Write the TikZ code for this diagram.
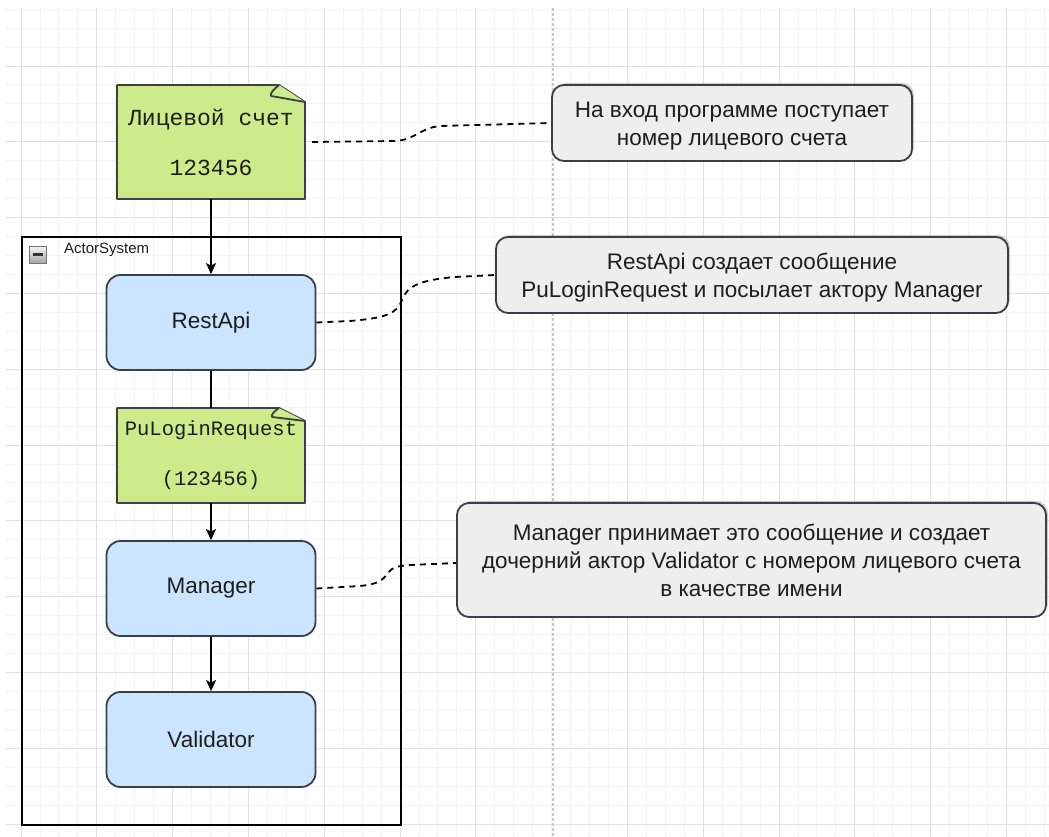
\documentclass[tikz,border=0pt]{standalone}
\usepackage{fontspec}
\setmainfont{Liberation Sans}
\newfontfamily\notefont{Liberation Mono}
\usetikzlibrary{arrows.meta,shadows}

\definecolor{gridminor}{HTML}{F2F2F2}
\definecolor{gridmajor}{HTML}{E0E0E0}
\definecolor{pagebreak}{HTML}{C8C8C8}
\definecolor{notefill}{HTML}{CDEB8B}
\definecolor{boxfill}{HTML}{CCE5FF}
\definecolor{calloutfill}{HTML}{EEEEEE}
\definecolor{edgegray}{HTML}{3C3F44}
\definecolor{inktext}{HTML}{1E1E1E}

\tikzset{
  sheet/.style={draw=edgegray, fill=notefill, line width=1.8pt, line join=round},
  notetext/.style={minimum width=188pt, minimum height=114pt, inner sep=0pt,
    align=center, text=inktext, font=\notefont\fontsize{23}{50}\selectfont},
  actor/.style={draw=edgegray, fill=boxfill, rounded corners=14pt, line width=1.8pt,
    minimum width=209pt, minimum height=95pt, inner sep=0pt, text=inktext,
    font=\fontsize{22.5}{27}\selectfont},
  callout/.style={draw=edgegray, fill=calloutfill, rounded corners=12pt, line width=1.8pt,
    inner sep=0pt, align=center, text=inktext, font=\fontsize{22.5}{28}\selectfont,
    drop shadow={shadow xshift=2pt, shadow yshift=2pt, opacity=0.18, fill=black}},
  flow/.style={draw=black, line width=1.8pt},
  arr/.style={flow, -{Stealth[length=11pt,width=10pt,inset=2.5pt]}},
  link/.style={draw=black, line width=1.8pt, dash pattern=on 6pt off 5pt},
}
% a taller first line pushes a two-line text a little lower in its box
\newcommand\tallstrut{\rule{0pt}{22.5pt}}

\begin{document}
\begin{tikzpicture}[x=1pt,y=-1pt]
\useasboundingbox (0,0) rectangle (1049,837);
\fill[white] (0,0) rectangle (1049,837);

% background grid: fine lines, every fourth line stronger
\foreach \k in {0,...,54} {
  \pgfmathsetmacro\gx{21+18.95*\k}
  \draw[gridminor, line width=0.9pt] (\gx,8) -- (\gx,837);
}
\foreach \k in {-3,...,40} {
  \pgfmathsetmacro\gy{66+18.95*\k}
  \draw[gridminor, line width=0.9pt] (5,\gy) -- (1049,\gy);
}
\foreach \k in {0,...,6,8,9,...,13} {
  \pgfmathsetmacro\gx{21+75.8*\k}
  \draw[gridmajor, line width=0.9pt] (\gx,8) -- (\gx,837);
}
\foreach \k in {0,...,10} {
  \pgfmathsetmacro\gy{66+75.8*\k}
  \draw[gridmajor, line width=0.9pt] (5,\gy) -- (1049,\gy);
}
% page break
\draw[pagebreak, line width=1.2pt, dash pattern=on 3pt off 2pt] (553,8) -- (553,837);

% ActorSystem container
\draw[black, line width=2pt] (22,237) rectangle (401,825);
\shade[top color=white!92!gray, bottom color=gray!70, draw=gray!90!black, line width=0.8pt]
  (29,246) rectangle (46,263);
\draw[black!80, line width=2.2pt] (32.5,254.5) -- (42.5,254.5);
\node[anchor=west, inner sep=0pt, text=inktext, font=\fontsize{15}{18}\selectfont]
  (sysname) at (64,250) {ActorSystem};

% sticky note: account number
\draw[sheet] (117,85) -- (279,85) -- (305,102) -- (305,199) -- (117,199) -- cycle;
\draw[sheet] (279,85) .. controls (274,89) and (270,93) .. (271,96) -- (305,102);
\node[notetext] (n1) at (211,142) {Лицевой счет\\123456};

% sticky note: message
\draw[sheet] (117,408) -- (279,408) -- (305,421) -- (305,503) -- (117,503) -- cycle;
\draw[sheet] (279,408) .. controls (275,411) and (271,414) .. (272,417) -- (305,421);
\node[notetext, minimum height=95pt, font=\notefont\fontsize{20.5}{50}\selectfont]
  (n2) at (211,455.5) {PuLoginRequest\\(123456)};

% actors
\node[actor] (rest) at (211,322.5) {RestApi};
\node[actor] (mgr) at (211,588.5) {Manager};
\node[actor] (val) at (211,739.5) {Validator};

% message flow
\draw[arr] (n1.south) -- (rest.north);
\draw[flow] (rest.south) -- (n2.north);
\draw[arr] (n2.south) -- (mgr.north);
\draw[arr] (mgr.south) -- (val.north);

% explanations
\node[callout, minimum width=360pt, minimum height=76pt] (c1) at (732,123)
  {\tallstrut На вход программе поступает\\номер лицевого счета};
\node[callout, minimum width=512pt, minimum height=76pt] (c2) at (752,275)
  {\tallstrut RestApi создает сообщение\\PuLoginRequest и посылает актору Manager};
\node[callout, minimum width=589pt, minimum height=114pt] (c3) at (751.5,560)
  {Manager принимает это сообщение и создает\\дочерний актор Validator с номером лицевого счета\\в качестве имени};

% dashed links to the explanations
\draw[link] ([xshift=7pt]n1.east) -- (395,141)
  .. controls (415,140) and (420,128) .. (440,126) -- (c1.west);
\draw[link] (rest.east) -- (350,321)
  .. controls (385,318) and (397,314) .. (402,300)
  .. controls (407,286) and (420,280) .. (455,277) -- (c2.west);
\draw[link] (mgr.east) -- (360,586)
  .. controls (378,584) and (382,581) .. (388,573)
  .. controls (392,567) and (398,566) .. (410,565) -- ([yshift=-3pt]c3.west);
\end{tikzpicture}
\end{document}
